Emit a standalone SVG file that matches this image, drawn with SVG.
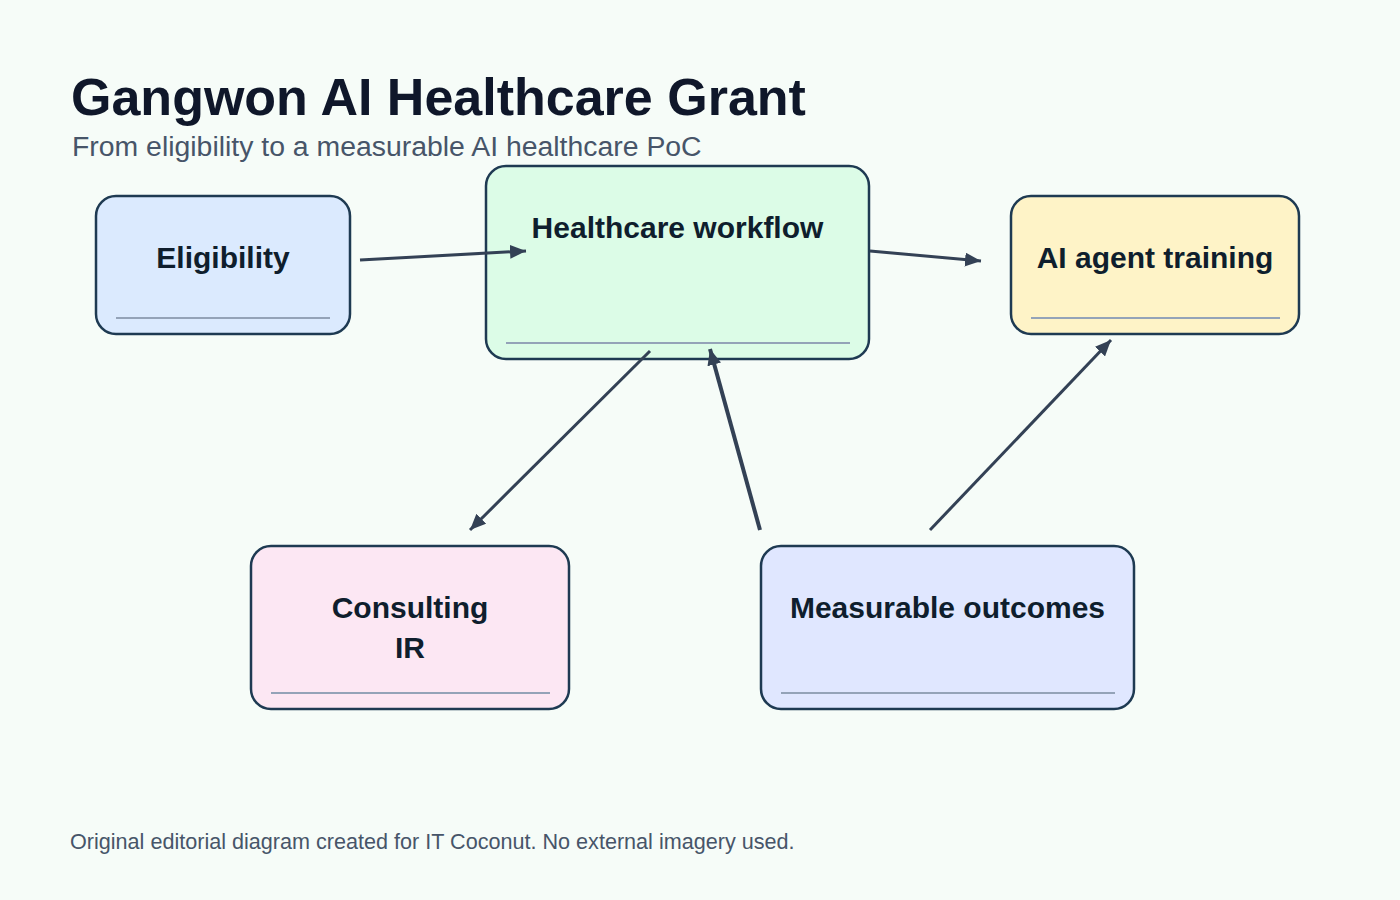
<svg xmlns="http://www.w3.org/2000/svg" width="1400" height="900" viewBox="0 0 1400 900">
<defs>
<style>
.title{font-family:"Liberation Sans",Arial,sans-serif;font-weight:bold;font-size:52px;fill:#0f172a}
.sub{font-family:"Liberation Sans",Arial,sans-serif;font-size:28.4px;fill:#475569}
.foot{font-family:"Liberation Sans",Arial,sans-serif;font-size:21.6px;fill:#475569}
.box{stroke:#1e3a52;stroke-width:2.5}
.lbl{font-family:"Liberation Sans",Arial,sans-serif;font-weight:bold;font-size:30px;fill:#0f1e2d;text-anchor:middle}
.sep{stroke:#94a3b8;stroke-width:2}
.edge{stroke:#334155;stroke-width:3;fill:none}
</style>
<marker id="arr" viewBox="0 0 16 14" refX="16" refY="7" markerWidth="16" markerHeight="14" markerUnits="userSpaceOnUse" orient="auto">
<path d="M0,0 L16,7 L0,14 Z" fill="#334155"/>
</marker>
</defs>
<rect width="1400" height="900" fill="#f6fcf8"/>
<text class="title" x="71" y="115">Gangwon AI Healthcare Grant</text>
<text class="sub" x="72" y="156">From eligibility to a measurable AI healthcare PoC</text>

<g id="node-eligibility">
<rect class="box" x="96" y="196" width="254" height="138" rx="20" fill="#dbeafe"/>
<text class="lbl" x="223" y="268">Eligibility</text>
<line class="sep" x1="116" y1="318" x2="330" y2="318"/>
</g>
<g id="node-workflow">
<rect class="box" x="486" y="166" width="383" height="193" rx="20" fill="#dcfce7"/>
<text class="lbl" x="677.5" y="238">Healthcare workflow</text>
<line class="sep" x1="506" y1="343" x2="850" y2="343"/>
</g>
<g id="node-training">
<rect class="box" x="1011" y="196" width="288" height="138" rx="20" fill="#fef3c7"/>
<text class="lbl" x="1155" y="268">AI agent training</text>
<line class="sep" x1="1031" y1="318" x2="1280" y2="318"/>
</g>
<g id="node-consulting">
<rect class="box" x="251" y="546" width="318" height="163" rx="20" fill="#fce7f3"/>
<text class="lbl" x="410" y="618">Consulting</text>
<text class="lbl" x="410" y="658">IR</text>
<line class="sep" x1="271" y1="693" x2="550" y2="693"/>
</g>
<g id="node-outcomes">
<rect class="box" x="761" y="546" width="373" height="163" rx="20" fill="#e0e7ff"/>
<text class="lbl" x="947.5" y="618">Measurable outcomes</text>
<line class="sep" x1="781" y1="693" x2="1115" y2="693"/>
</g>

<g id="connectors">
<path class="edge" d="M360,260 L526,251" marker-end="url(#arr)"/>
<path class="edge" d="M870,251 L981,261" marker-end="url(#arr)"/>
<path class="edge" d="M650,351 L470,530" marker-end="url(#arr)"/>
<path class="edge" style="stroke-width:4" d="M760,530 L710,349" marker-end="url(#arr)"/>
<path class="edge" d="M930,530 L1111,340" marker-end="url(#arr)"/>
</g>

<text class="foot" x="70" y="849">Original editorial diagram created for IT Coconut. No external imagery used.</text>
</svg>
